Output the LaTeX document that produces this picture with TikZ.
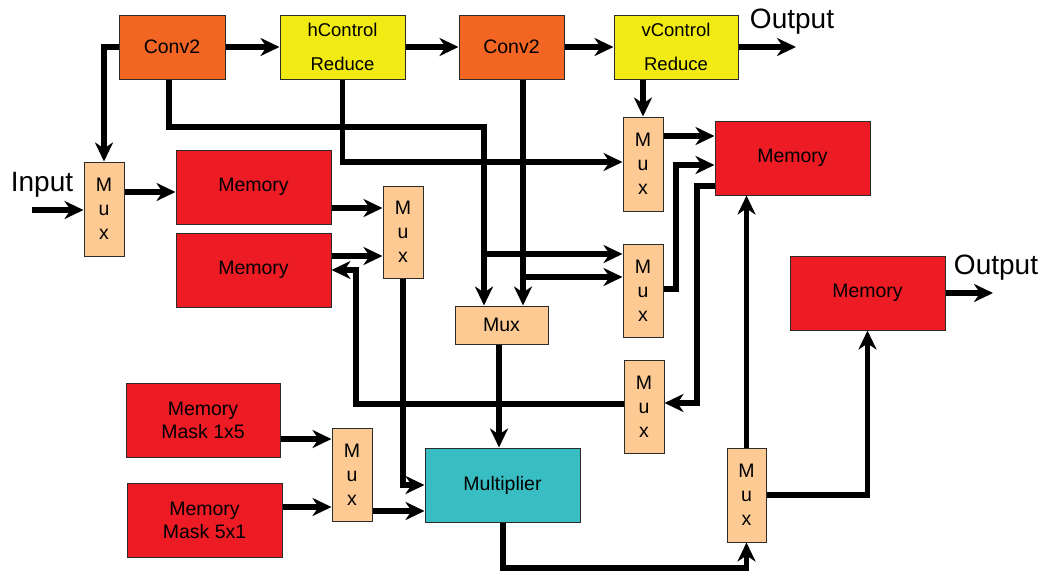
\documentclass[tikz,border=0pt]{standalone}
\usepackage{fontspec}
\setmainfont{Liberation Sans}
\usetikzlibrary{arrows.meta}

\definecolor{convc}{HTML}{F26522}
\definecolor{ctrlc}{HTML}{F2EB13}
\definecolor{memc}{HTML}{ED1C24}
\definecolor{muxc}{HTML}{FDCA93}
\definecolor{multc}{HTML}{38BEC2}
\definecolor{edgec}{HTML}{2B2B2B}

\tikzset{
  blk/.style={draw=edgec, line width=1pt, inner sep=0pt, align=center,
              font=\fontsize{19.5}{23}\selectfont},
  conv/.style={blk, fill=convc},
  ctrl/.style={blk, fill=ctrlc, font=\fontsize{18.5}{34}\selectfont},
  mem/.style={blk, fill=memc},
  vmux/.style={blk, fill=muxc, font=\fontsize{19.5}{24}\selectfont},
  hmux/.style={blk, fill=muxc},
  mult/.style={blk, fill=multc},
  wire/.style={line width=5.8pt, draw=black},
  arr/.style={wire, -{Stealth[length=19pt,width=18pt,inset=6pt]}},
  lbl/.style={font=\fontsize{28}{30}\selectfont, inner sep=0pt},
}

\begin{document}
\begin{tikzpicture}[x=1pt, y=-1pt]
  \useasboundingbox (0,0) rectangle (1047,571);

  % processing chain along the top
  \node[conv, minimum width=106pt, minimum height=64pt] (conv1) at (172,47) {Conv2};
  \node[ctrl, minimum width=125pt, minimum height=64pt] (hctrl) at (342.5,47) {hControl\\Reduce};
  \node[conv, minimum width=105pt, minimum height=64pt] (conv2) at (511.5,47) {Conv2};
  \node[ctrl, minimum width=124pt, minimum height=64pt] (vctrl) at (676,47) {vControl\\Reduce};

  % left column
  \node[vmux, minimum width=40pt, minimum height=94pt] (mux1) at (104,209) {M\\u\\x};
  \node[mem, minimum width=155pt, minimum height=74pt] (mem1) at (253.5,187) {Memory};
  \node[mem, minimum width=155pt, minimum height=74pt] (mem2) at (253.5,270) {Memory};
  \node[vmux, minimum width=40pt, minimum height=92pt] (mux2) at (403,232) {M\\u\\x};

  % right column
  \node[vmux, minimum width=40pt, minimum height=94pt] (mux3) at (643,164) {M\\u\\x};
  \node[mem, minimum width=155pt, minimum height=74pt] (mem3) at (792.5,158) {Memory};
  \node[vmux, minimum width=40pt, minimum height=93pt] (mux4) at (643,290.5) {M\\u\\x};
  \node[hmux, minimum width=93pt, minimum height=38pt] (muxc) at (501.5,325) {Mux};
  \node[mem, minimum width=155pt, minimum height=74pt] (mem4) at (867.5,293) {Memory};
  \node[vmux, minimum width=40pt, minimum height=93pt] (mux6) at (644,406.5) {M\\u\\x};

  % mask memories and multiplier
  \node[mem, minimum width=154pt, minimum height=74pt] (mask1) at (203,420) {Memory\\Mask 1x5};
  \node[mem, minimum width=155pt, minimum height=74pt] (mask2) at (204.5,520) {Memory\\Mask 5x1};
  \node[vmux, minimum width=40pt, minimum height=93pt] (mux5) at (352,474.5) {M\\u\\x};
  \node[mult, minimum width=155pt, minimum height=74pt] (mult) at (502.5,485) {Multiplier};
  \node[vmux, minimum width=39pt, minimum height=94pt] (mux7) at (746.5,495) {M\\u\\x};

  % external labels
  \node[lbl] (inlbl) at (42,185) {Input};
  \node[lbl] (outlbl1) at (792,22) {Output};
  \node[lbl] (outlbl2) at (996,268) {Output};
  \coordinate (in) at (32,210);
  \coordinate (out1) at (796,47);
  \coordinate (out2) at (993,293);

  % top chain
  \draw[arr] (conv1.east) -- (hctrl.west);
  \draw[arr] (hctrl.east) -- (conv2.west);
  \draw[arr] (conv2.east) -- (vctrl.west);
  \draw[arr] (vctrl.east) -- (out1);

  % input side
  \draw[arr] (in) -- (mux1.west |- in);
  \draw[arr] (conv1.west) -| (mux1.north);
  \draw[arr] (mux1.east |- 0,192) -- (mem1.west |- 0,192);
  \draw[arr] (mem1.east |- 0,208) -- (mux2.west |- 0,208);
  \draw[arr] (mem2.east |- 0,256) -- (mux2.west |- 0,256);
  \draw[arr] (mux2.south) |- (mult.west);

  % control and convolution fan-out
  \draw[arr] (conv1.south -| 169,0) -- (169,127) -- (484,127) -- (muxc.north -| 484,0);
  \draw[arr] (484,254) -- (mux4.west |- 0,254);
  \draw[arr] (conv2.south -| 523,0) -- (muxc.north -| 523,0);
  \draw[arr] (523,277) -- (mux4.west |- 0,277);
  \draw[arr] (hctrl.south) |- (mux3.west |- 0,162);
  \draw[arr] (vctrl.south -| mux3.north) -- (mux3.north);

  % right memory loop
  \draw[arr] (mux3.east |- 0,136) -- (mem3.west |- 0,136);
  \draw[arr] (mux4.east |- 0,289) -- (676,289) -- (676,165) -- (mem3.west |- 0,165);
  \draw[arr] (mem3.west |- 0,186) -- (697,186) -- (697,403) -- (mux6.east |- 0,403);
  \draw[arr] (mux6.west |- 0,404) -- (356,404) -- (356,270) -- (mem2.east |- 0,270);

  % multiplier path
  \draw[arr] (mask1.east |- 0,439) -- (mux5.west |- 0,439);
  \draw[arr] (mask2.east |- 0,507) -- (mux5.west |- 0,507);
  \draw[arr] (mux5.east |- 0,511) -- (mult.west |- 0,511);
  \draw[arr] (muxc.south -| 499,0) -- (mult.north -| 499,0);
  \draw[arr] (mult.south -| 503,0) -- (503,568) -| (mux7.south);
  \draw[arr] (mux7.north) -- (mux7.north |- mem3.south);
  \draw[arr] (mux7.east) -| (mem4.south);
  \draw[arr] (mem4.east) -- (out2);
\end{tikzpicture}
\end{document}
